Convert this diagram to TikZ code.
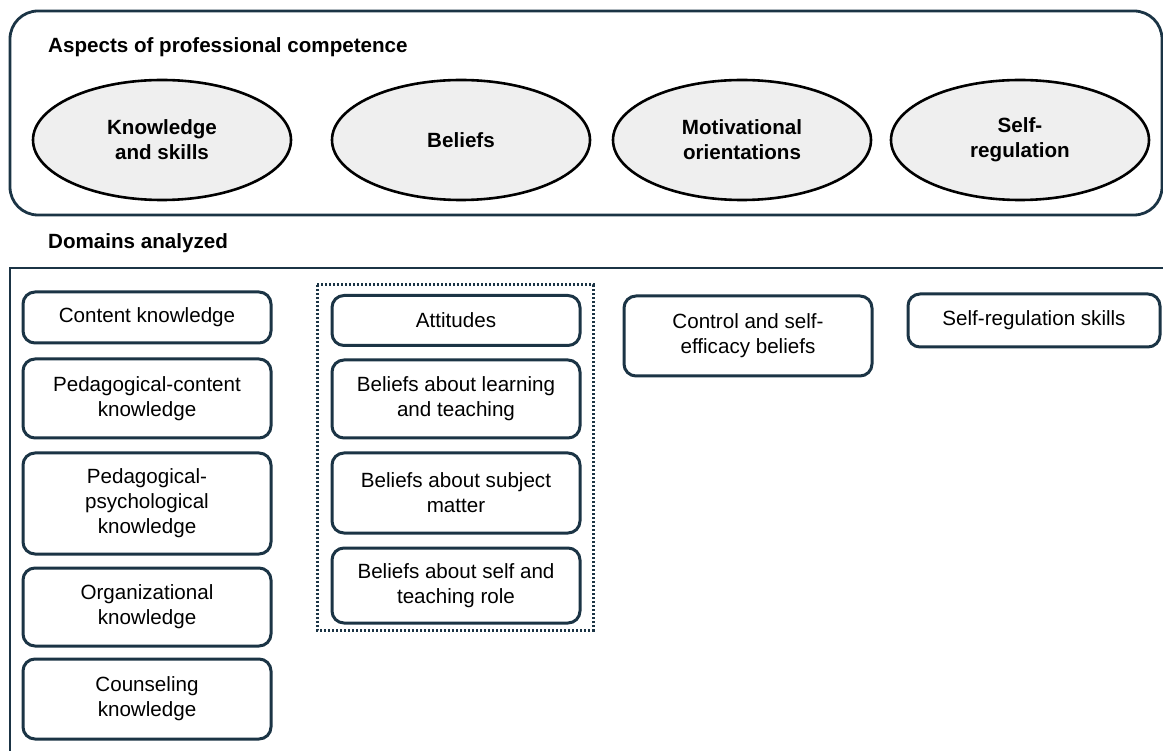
\documentclass[tikz,border=0pt]{standalone}
\usepackage{fontspec}
\setmainfont{Liberation Sans}
\usetikzlibrary{shapes.geometric}
\definecolor{navy}{HTML}{1B3445}
\definecolor{ellfill}{HTML}{EFEFEF}
\begin{document}
\begin{tikzpicture}[x=1pt,y=-1pt,
  frame/.style={draw=navy,line width=2.8pt},
  domainbox/.style={draw=navy,line width=3pt,rounded corners=12pt,align=center,
    inner sep=0pt,font=\fontsize{20.6}{25}\selectfont},
  aspect/.style={ellipse,draw=black,line width=2.6pt,fill=ellfill,minimum width=258pt,
    minimum height=120pt,inner sep=0pt,align=center,font=\fontsize{20.6}{25}\selectfont\bfseries},
  heading/.style={anchor=west,inner sep=0pt,font=\fontsize{20.6}{25}\selectfont\bfseries},
  groupbox/.style={draw=navy,line width=3pt,dash pattern=on 2.2pt off 1.8pt}]
\useasboundingbox (0,0) rectangle (1163,751);
\fill[white] (0,0) rectangle (1163,751);
% top frame
\draw[frame,rounded corners=28pt] (10,11) rectangle (1162,215);
\node[heading] (title) at (48,47) {Aspects of professional competence};
\node[aspect] (e1) at (162,140) {Knowledge\\and skills};
\node[aspect] (e2) at (461,140) {Beliefs};
\node[aspect] (e3) at (742,140) {Motivational\\orientations};
\node[aspect] (e4) at (1020,140) {Self-\\regulation};
% bottom frame
\node[heading] (dom) at (48,243) {Domains analyzed};
\draw[frame] (1175,268) -- (10,268) -- (10,760);
% column 1
\node[domainbox,minimum width=248pt,minimum height=51pt] (c1) at (147,317.5) {Content knowledge};
\node[domainbox,minimum width=248pt,minimum height=79pt] (c2) at (147,398.5) {Pedagogical-content\\knowledge};
\node[domainbox,minimum width=248pt,minimum height=101pt] (c3) at (147,503.5) {Pedagogical-\\psychological\\knowledge};
\node[domainbox,minimum width=248pt,minimum height=78pt] (c4) at (147,607) {Organizational\\knowledge};
\node[domainbox,minimum width=248pt,minimum height=80pt] (c5) at (147,699) {Counseling\\knowledge};
% column 2
\draw[groupbox] (317,285) rectangle (593,630);
\node[domainbox,minimum width=248pt,minimum height=50pt] (b1) at (456,320.5) {Attitudes};
\node[domainbox,minimum width=248pt,minimum height=78pt] (b2) at (456,399) {Beliefs about learning\\and teaching};
\node[domainbox,minimum width=248pt,minimum height=80pt] (b3) at (456,493) {Beliefs about subject\\matter};
\node[domainbox,minimum width=248pt,minimum height=75pt] (b4) at (456,585.5) {Beliefs about self and\\teaching role};
% column 3 and 4
\node[domainbox,minimum width=248pt,minimum height=80pt] (m1) at (748,336) {Control and self-\\efficacy beliefs};
\node[domainbox,minimum width=252pt,minimum height=53pt] (s1) at (1034,320.5) {Self-regulation skills};
\end{tikzpicture}
\end{document}
